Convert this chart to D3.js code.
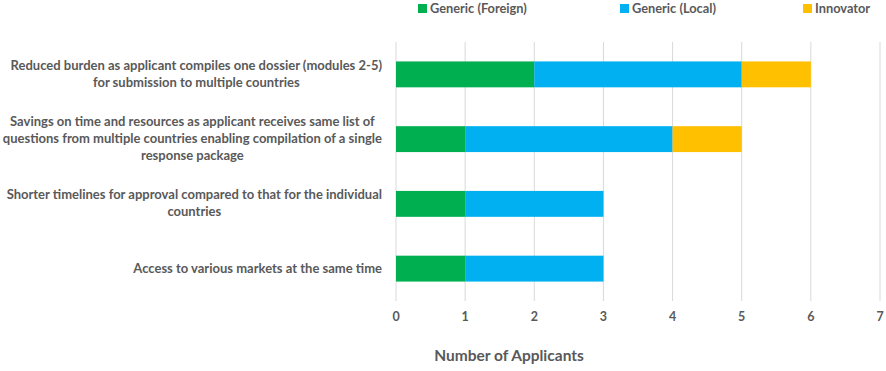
<!DOCTYPE html>
<html>
<head>
<meta charset="utf-8">
<script src="https://cdn.jsdelivr.net/npm/d3@7"></script>
<style>
  body { margin: 0; background: #fff; }
  text { font-family: Lato, "Open Sans", sans-serif; }
</style>
</head>
<body>
<svg width="886" height="371"></svg>
<script>
// categories, top to bottom (each label is a list of wrapped lines)
var categories = [
  ["Reduced burden as applicant compiles one dossier (modules 2-5)", "for submission to multiple countries"],
  ["Savings on time and resources as applicant receives same list of", "questions from multiple countries enabling compilation of a single", "response package"],
  ["Shorter timelines for approval compared to that for the individual", "countries"],
  ["Access to various markets at the same time"]
];
var seriesNames = ["Generic (Foreign)", "Generic (Local)", "Innovator"];
var genericForeign = [2, 1, 1, 1];
var genericLocal = [3, 3, 2, 2];
var innovator = [1, 1, 0, 0];
var xTicks = [0, 1, 2, 3, 4, 5, 6, 7];
var colors = ["#00B050", "#00B0F0", "#FFC000"];

var svg = d3.select("svg");
var plotL = 396, plotR = 880, plotT = 42, plotB = 301;

var x = d3.scaleLinear().domain([0, 7]).range([plotL, plotR]);
var y = d3.scaleBand().domain(d3.range(categories.length)).range([plotT, plotB]).paddingInner(0.6).paddingOuter(0.3);

// gridlines
svg.append("g").selectAll("line")
    .data(xTicks)
  .enter().append("line")
    .attr("x1", function(d) { return x(d); })
    .attr("x2", function(d) { return x(d); })
    .attr("y1", plotT)
    .attr("y2", plotB)
    .attr("stroke", "#d9d9d9")
    .attr("stroke-width", 1);

// tick labels
svg.append("g").selectAll("text")
    .data(xTicks)
  .enter().append("text")
    .attr("x", function(d) { return x(d); })
    .attr("y", 321)
    .attr("text-anchor", "middle")
    .attr("font-size", 12.5)
    .attr("font-weight", "bold")
    .attr("fill", "#595959")
    .text(function(d) { return d; });

// stacked bars
var rows = categories.map(function(c, i) {
  return { i: i, f: genericForeign[i], l: genericLocal[i], n: innovator[i] };
});
var layers = d3.stack().keys(["f", "l", "n"])(rows);

svg.append("g").selectAll("g")
    .data(layers)
  .enter().append("g")
    .attr("fill", function(d, i) { return colors[i]; })
  .selectAll("rect")
    .data(function(d) { return d; })
  .enter().append("rect")
    .attr("x", function(d) { return x(d[0]); })
    .attr("width", function(d) { return x(d[1]) - x(d[0]); })
    .attr("y", function(d) { return y(d.data.i); })
    .attr("height", y.bandwidth());

// category labels: lines centred on each other, block right-aligned
var lineH = 17;
var lab = svg.append("g").selectAll("text")
    .data(categories)
  .enter().append("text")
    .attr("text-anchor", "middle")
    .attr("font-size", 13)
    .attr("font-weight", "bold")
    .attr("fill", "#595959");
lab.each(function(lines, i) {
  var cy = y(i) + y.bandwidth() / 2;
  var y0 = cy - (lines.length - 1) * lineH / 2 + 4;
  var t = d3.select(this);
  lines.forEach(function(s, k) {
    t.append("tspan")
      .attr("x", 196)
      .attr("y", y0 + k * lineH)
      .text(s);
  });
});
lab.each(function() {
  var t = d3.select(this);
  var maxW = 0;
  t.selectAll("tspan").each(function() { maxW = Math.max(maxW, this.getComputedTextLength()); });
  t.selectAll("tspan").attr("x", 382 - maxW / 2);
});

// axis title
svg.append("text")
    .attr("x", 509)
    .attr("y", 361)
    .attr("text-anchor", "middle")
    .attr("font-size", 15.5)
    .attr("font-weight", "bold")
    .attr("fill", "#595959")
    .text("Number of Applicants");

// legend
var legendX = [418, 620, 803];
var lg = svg.append("g").selectAll("g")
    .data(seriesNames)
  .enter().append("g")
    .attr("transform", function(d, i) { return "translate(" + legendX[i] + ",0)"; });
lg.append("rect")
    .attr("x", 0).attr("y", 4)
    .attr("width", 9).attr("height", 9)
    .attr("fill", function(d, i) { return colors[i]; });
lg.append("text")
    .attr("x", 12).attr("y", 13)
    .attr("font-size", 12.8)
    .attr("font-weight", "bold")
    .attr("fill", "#595959")
    .text(function(d) { return d; });
</script>
</body>
</html>
